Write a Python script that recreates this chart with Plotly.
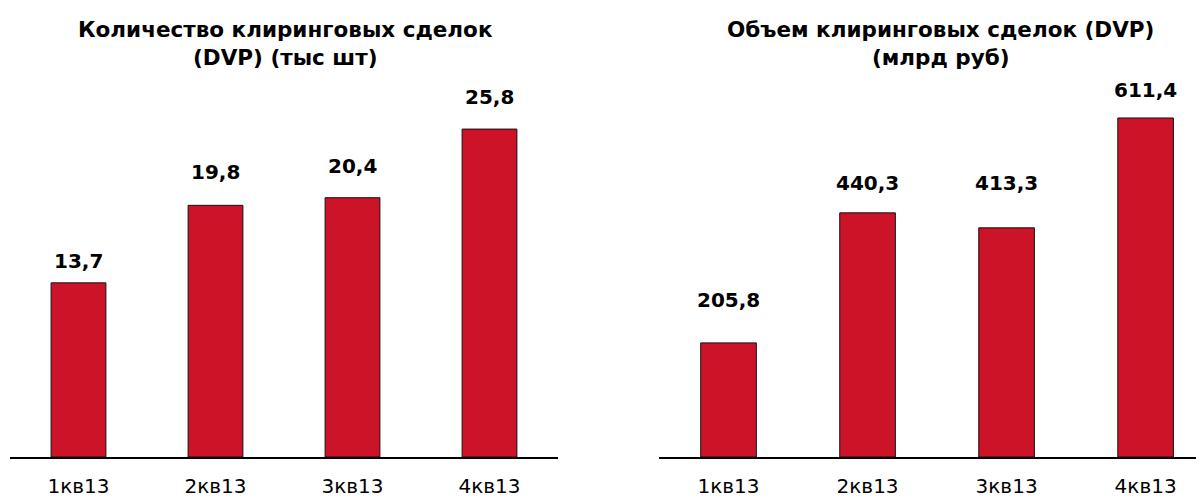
import plotly.graph_objects as go

categories = ["1кв13", "2кв13", "3кв13", "4кв13"]
count_values = [13.7, 19.8, 20.4, 25.8]
volume_values = [205.8, 440.3, 413.3, 611.4]
title_left = "Количество клиринговых сделок<br>(DVP) (тыс шт)"
title_right = "Объем клиринговых сделок (DVP)<br>(млрд руб)"

def fmt(v):
    return f"{v:.1f}".replace(".", ",")

BAR = "#CC1328"
FONT = "DejaVu Sans"
W, H = 1196, 491   # page body has an 8px margin
OFF = 8

fig = go.Figure()
fig.add_trace(go.Bar(x=categories, y=count_values, xaxis="x", yaxis="y",
                     marker=dict(color=BAR, line=dict(color="#111", width=1)),
                     width=0.4, hoverinfo="skip"))
fig.add_trace(go.Bar(x=categories, y=volume_values, xaxis="x2", yaxis="y2",
                     marker=dict(color=BAR, line=dict(color="#111", width=1)),
                     width=0.4, hoverinfo="skip"))

left_shift = [22, 33, 32, 32]
right_shift = [43, 30, 45, 28]
ann = []
for c, v, s in zip(categories, count_values, left_shift):
    ann.append(dict(x=c, y=v, xref="x", yref="y", text=f"<b>{fmt(v)}</b>",
                    showarrow=False, yshift=s, font=dict(size=20, color="black", family=FONT)))
for c, v, s in zip(categories, volume_values, right_shift):
    ann.append(dict(x=c, y=v, xref="x2", yref="y2", text=f"<b>{fmt(v)}</b>",
                    showarrow=False, yshift=s, font=dict(size=20, color="black", family=FONT)))
ann.append(dict(x=(285 - OFF) / W, y=1 - (43 - OFF) / H, xref="paper", yref="paper",
                xanchor="center", yanchor="middle", text=f"<b>{title_left}</b>",
                showarrow=False, font=dict(size=21.5, color="black", family=FONT)))
ann.append(dict(x=(940 - OFF) / W, y=1 - (43 - OFF) / H, xref="paper", yref="paper",
                xanchor="center", yanchor="middle", text=f"<b>{title_right}</b>",
                showarrow=False, font=dict(size=21.5, color="black", family=FONT)))

base = 457 - OFF
ybot = (H - base) / H
axis_common = dict(showline=True, linecolor="black", linewidth=1.5, ticks="",
                   showgrid=False, zeroline=False, fixedrange=True,
                   tickfont=dict(size=20, color="black", family=FONT),
                   ticklabelstandoff=10)
fig.update_layout(
    width=W, height=H, margin=dict(l=0, r=0, t=0, b=0),
    paper_bgcolor="white", plot_bgcolor="white", showlegend=False,
    font=dict(family=FONT, color="black"),
    xaxis=dict(domain=[(10 - OFF) / W, (558 - OFF) / W], range=[-0.5, 3.5], **axis_common),
    xaxis2=dict(domain=[(659 - OFF) / W, 1.0], range=[-0.5, 3.42], **axis_common),
    yaxis=dict(domain=[ybot, 1], range=[0, base / 12.71], visible=False, fixedrange=True),
    yaxis2=dict(domain=[ybot, 1], range=[0, base / 0.5545], visible=False, fixedrange=True),
    annotations=ann,
)
fig.write_html("out.html", config={"displayModeBar": False})
